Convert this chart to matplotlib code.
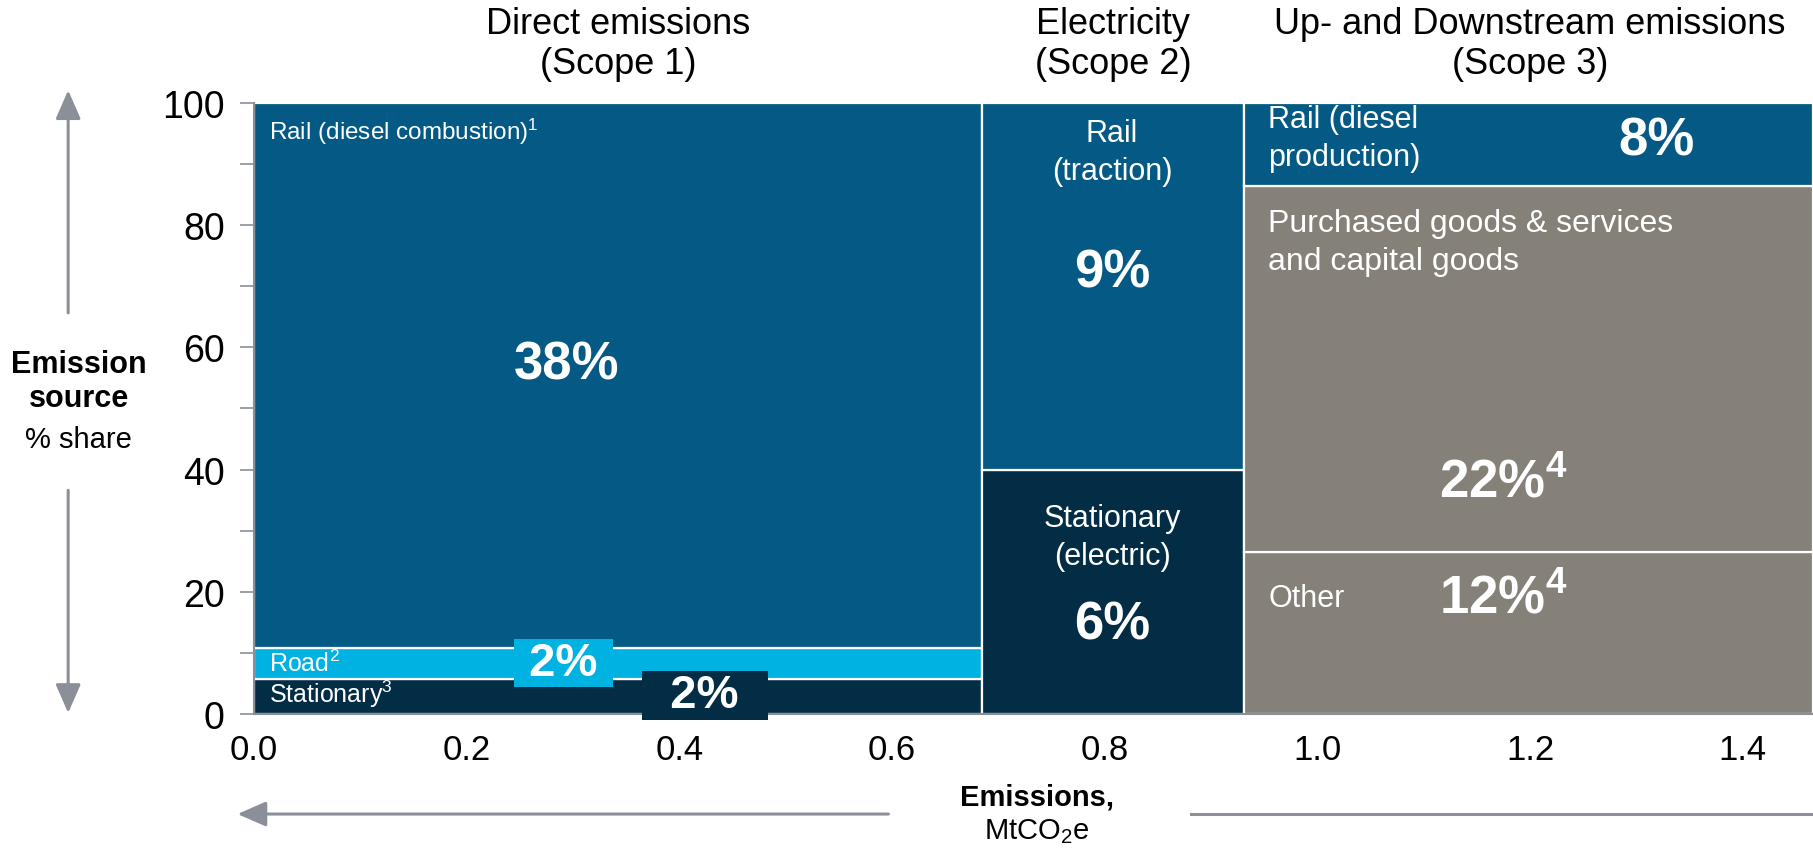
import numpy as np
import matplotlib
matplotlib.use("Agg")
import matplotlib.pyplot as plt
from matplotlib.patches import FancyArrowPatch
from matplotlib.lines import Line2D
from matplotlib.ticker import MultipleLocator, FormatStrFormatter

# ---- data ----
scope_titles = ["Direct emissions\n(Scope 1)", "Electricity\n(Scope 2)",
                "Up- and Downstream emissions\n(Scope 3)"]
scope_widths = [0.685, 0.246, 0.535]          # MtCO2e (scope 3 runs off the page)
# segments per scope, bottom to top: (name, % share of the column, colour key)
scope1_seg = [("Stationary", 5.7, "navy"), ("Road", 5.1, "cyan"), ("Rail (diesel combustion)", 89.2, "blue")]
scope2_seg = [("Stationary (electric)", 40.0, "navy"), ("Rail (traction)", 60.0, "blue")]
scope3_seg = [("Other", 26.5, "grey"), ("Purchased goods", 60.0, "grey"), ("Rail (diesel production)", 13.5, "blue")]
segments = [scope1_seg, scope2_seg, scope3_seg]
y_ticks = [0, 20, 40, 60, 80, 100]
x_ticks = [0.0, 0.2, 0.4, 0.6, 0.8, 1.0, 1.2, 1.4]

COL = {"blue": "#045a84", "cyan": "#00b2e2", "navy": "#022d44", "grey": "#858178"}
GREY = "#8b8f98"
FONT = ["Liberation Sans", "DejaVu Sans"]

plt.rcParams["font.family"] = FONT
plt.rcParams["mathtext.fontset"] = "custom"
plt.rcParams["mathtext.rm"] = "Liberation Sans"
plt.rcParams["mathtext.it"] = "Liberation Sans"
plt.rcParams["mathtext.bf"] = "Liberation Sans:bold"

fig = plt.figure(figsize=(18.13, 8.53), dpi=100)
ax = fig.add_axes([0.140, 0.162, 0.860, 0.716])

# ---- marimekko columns ----
left = 0.0
col_left = []
for w, segs in zip(scope_widths, segments):
    col_left.append(left)
    bottom = 0.0
    for name, h, c in segs:
        ax.bar(left, h, width=w, bottom=bottom, align="edge", color=COL[c],
               edgecolor="white", linewidth=1.6)
        bottom += h
    left += w

ax.set_xlim(0, 1.466)
ax.set_ylim(0, 100)

# ---- axes styling ----
for s in ["top", "right"]:
    ax.spines[s].set_visible(False)
for s in ["left", "bottom"]:
    ax.spines[s].set_color(GREY)
    ax.spines[s].set_linewidth(1.5)
ax.set_yticks(y_ticks)
ax.yaxis.set_minor_locator(MultipleLocator(10))
ax.tick_params(axis="y", which="both", length=10, width=1.2, color=GREY, pad=11)
ax.set_xticks(x_ticks)
ax.xaxis.set_major_formatter(FormatStrFormatter("%.1f"))
ax.tick_params(axis="x", length=0, pad=14)
for t in ax.get_yticklabels():
    t.set_fontsize(27)
for t in ax.get_xticklabels():
    t.set_fontsize(25)

# ---- scope titles ----
centers = [col_left[0] + scope_widths[0] / 2, col_left[1] + scope_widths[1] / 2, 1.2]
for cx, t in zip(centers, scope_titles):
    ax.text(cx, 109.8, t, ha="center", va="center", fontsize=26,
            linespacing=1.2, clip_on=False)

W = "white"
def lab(x, y, s, size=22, ha="left", bold=False, **kw):
    ax.text(x, y, s, ha=ha, va="center", color=W, fontsize=size,
            fontweight="bold" if bold else "normal", linespacing=1.35, **kw)

# scope 1
lab(0.014, 95.4, "Rail (diesel combustion)$^{1}$", 17.5)
lab(0.294, 57.2, "38%", 38, "center", True)
lab(0.014, 8.3, "Road$^{2}$", 18)
lab(0.014, 3.3, "Stationary$^{3}$", 18)
lab(0.291, 8.3, " 2% ", 34, "center", True,
    bbox=dict(boxstyle="square,pad=0.05", fc=COL["cyan"], ec="none"))
lab(0.424, 3.0, "  2%  ", 34, "center", True, clip_on=False,
    bbox=dict(boxstyle="square,pad=0.05", fc=COL["navy"], ec="none"))
# scope 2
lab(0.807, 92.0, "Rail\n(traction)", 22, "center")
lab(0.807, 72.2, "9%", 38, "center", True)
lab(0.807, 29.0, "Stationary\n(electric)", 22, "center")
lab(0.807, 14.6, "6%", 38, "center", True)
# scope 3
lab(0.954, 94.3, "Rail (diesel\nproduction)", 22)
lab(1.319, 93.9, "8%", 38, "center", True)
lab(0.954, 77.3, "Purchased goods & services\nand capital goods", 23)
lab(1.175, 37.9, r"22%$^{\mathbf{4}}$", 38, "center", True)
lab(0.954, 18.9, "Other", 22)
lab(1.175, 18.9, r"12%$^{\mathbf{4}}$", 38, "center", True)

# ---- side axis title with arrows ----
fig.text(0.0434, 0.572, "Emission", ha="center", va="center", fontsize=22, fontweight="bold")
fig.text(0.0434, 0.532, "source", ha="center", va="center", fontsize=22, fontweight="bold")
fig.text(0.0434, 0.484, "% share", ha="center", va="center", fontsize=21)
ap = dict(arrowstyle="-|>,head_length=0.8,head_width=0.35", color=GREY, lw=2.2,
          mutation_scale=22, shrinkA=0, shrinkB=0)
fig.add_artist(FancyArrowPatch((0.0376, 0.632), (0.0376, 0.893), transform=fig.transFigure, **ap))
fig.add_artist(FancyArrowPatch((0.0376, 0.424), (0.0376, 0.163), transform=fig.transFigure, **ap))

# ---- bottom axis title with arrows ----
fig.text(0.572, 0.0655, "Emissions,", ha="center", va="center", fontsize=21, fontweight="bold")
fig.text(0.572, 0.025, "MtCO$_{2}$e", ha="center", va="center", fontsize=21)
fig.add_artist(FancyArrowPatch((0.490, 0.0445), (0.131, 0.0445), transform=fig.transFigure, **ap))
fig.add_artist(Line2D([0.657, 1.0], [0.0445, 0.0445], transform=fig.transFigure, color=GREY, lw=2.2))

fig.savefig("out.png", dpi=100)
